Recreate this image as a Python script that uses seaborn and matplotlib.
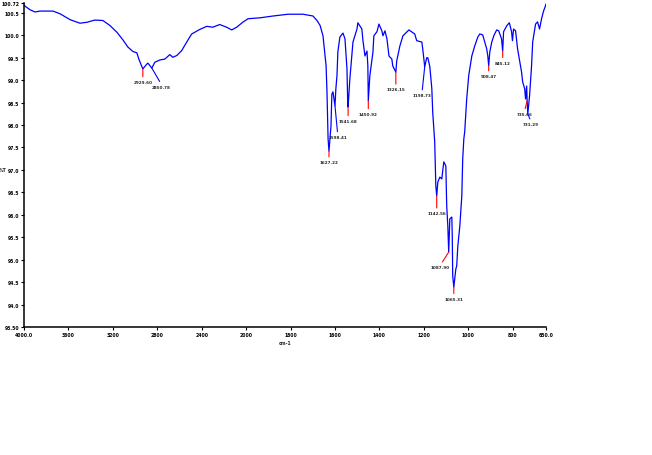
import numpy as np
import pandas as pd
import matplotlib
matplotlib.use("Agg")
import matplotlib.pyplot as plt
from matplotlib.ticker import NullLocator
import seaborn as sns

# IR spectrum
wavenumber = [4000, 3991, 3946, 3901, 3856, 3739, 3676, 3586, 3497, 3434, 3362, 3290,
              3227, 3164, 3110, 3065, 3020, 2984, 2966, 2930, 2894, 2885, 2849, 2822,
              2777, 2732, 2687, 2660, 2624, 2580, 2535, 2490, 2418, 2355, 2301, 2247,
              2238, 2175, 2130, 2085, 2031, 1991, 1937, 1879, 1811, 1744, 1699, 1681,
              1667, 1654, 1640, 1636, 1631, 1627, 1618, 1614, 1609, 1600, 1596, 1591,
              1587, 1578, 1564, 1555, 1546, 1543, 1541, 1533, 1519, 1501, 1497, 1479,
              1474, 1465, 1456, 1452, 1450, 1443, 1429, 1425, 1411, 1402, 1389, 1384,
              1375, 1366, 1357, 1344, 1340, 1326, 1322, 1308, 1294, 1267, 1241, 1232,
              1209, 1205, 1196, 1187, 1182, 1173, 1164, 1160, 1151, 1146, 1142, 1137,
              1128, 1119, 1115, 1110, 1101, 1097, 1092, 1088, 1083, 1074, 1072, 1070,
              1065, 1056, 1052, 1047, 1038, 1029, 1025, 1020, 1016, 1007, 998, 984,
              971, 957, 948, 935, 917, 912, 908, 903, 894, 885, 872, 863,
              850, 845, 841, 827, 815, 805, 801, 796, 787, 778, 760, 755,
              746, 742, 737, 735, 732, 724, 715, 710, 697, 688, 679, 670,
              661, 652, 650]
transmittance = [100.68, 100.65, 100.57, 100.52, 100.54, 100.54, 100.48, 100.35, 100.27, 100.29, 100.34, 100.33,
                 100.22, 100.07, 99.90, 99.74, 99.64, 99.61, 99.47, 99.25, 99.36, 99.38, 99.27, 99.40,
                 99.45, 99.47, 99.57, 99.51, 99.55, 99.66, 99.85, 100.03, 100.13, 100.20, 100.18, 100.23,
                 100.24, 100.18, 100.12, 100.18, 100.29, 100.37, 100.39, 100.43, 100.47, 100.47, 100.43, 100.33,
                 100.22, 99.99, 99.32, 98.74, 97.69, 97.42, 97.98, 98.69, 98.74, 98.43, 98.81, 99.10,
                 99.63, 99.96, 100.05, 99.92, 99.25, 98.58, 98.40, 99.03, 99.85, 100.14, 100.28, 100.14,
                 99.88, 99.54, 99.65, 99.32, 98.54, 99.10, 99.63, 99.99, 100.08, 100.25, 100.10, 99.99,
                 100.10, 99.92, 99.54, 99.47, 99.32, 99.18, 99.43, 99.76, 99.99, 100.12, 100.03, 99.88,
                 99.85, 99.70, 99.30, 99.50, 99.50, 99.30, 98.81, 98.29, 97.62, 96.64, 96.42, 96.73,
                 96.84, 96.80, 96.98, 97.18, 97.09, 96.20, 95.75, 95.17, 95.91, 95.95, 95.53, 94.64,
                 94.39, 94.79, 94.86, 95.30, 95.75, 96.42, 97.24, 97.69, 97.85, 98.58, 99.10, 99.54,
                 99.76, 99.96, 100.03, 100.01, 99.70, 99.54, 99.32, 99.63, 99.85, 99.99, 100.12, 100.10,
                 99.92, 99.65, 100.08, 100.21, 100.28, 100.08, 99.88, 100.14, 100.10, 99.70, 99.18, 98.96,
                 98.81, 98.58, 98.87, 98.54, 98.25, 98.65, 99.32, 99.85, 100.25, 100.30, 100.14, 100.37,
                 100.54, 100.66, 100.70]

# labelled peaks
peak_wn = [2930, 2849, 1627, 1600, 1541, 1450, 1326, 1196, 1142, 1088, 1065, 908, 845, 735, 732]
peak_t = [99.25, 99.27, 97.42, 98.43, 98.40, 98.54, 99.18, 99.30, 96.42, 95.17, 94.39, 99.32, 99.65, 98.54, 98.25]
peak_text = ['2929.60', '2850.78', '1627.22', '1598.41', '1541.68', '1450.92', '1326.15', '1198.73',
             '1142.56', '1087.90', '1065.31', '908.47', '845.12', '735.66', '731.29']

x_ticks = [4000, 3600, 3200, 2800, 2400, 2000, 1800, 1600, 1400, 1200, 1000, 800, 650]
x_tick_labels = ['4000.0', '3600', '3200', '2800', '2400', '2000', '1800', '1600',
                 '1400', '1200', '1000', '800', '650.0']
y_ticks = [93.5, 94.0, 94.5, 95.0, 95.5, 96.0, 96.5, 97.0, 97.5, 98.0, 98.5, 99.0,
           99.5, 100.0, 100.5, 100.72]
y_tick_labels = ['93.50', '94.0', '94.5', '95.0', '95.5', '96.0', '96.5', '97.0', '97.5',
                 '98.0', '98.5', '99.0', '99.5', '100.0', '100.5', '100.72']

df = pd.DataFrame({'cm-1': wavenumber, '%T': transmittance})

sns.set_style('ticks')
plt.rcParams['font.family'] = ['DejaVu Sans']

fig = plt.figure(figsize=(6.52, 4.56), dpi=100)
ax = fig.add_axes([24 / 652, 1 - 328 / 456, 522 / 652, 324 / 456])

sns.lineplot(data=df, x='cm-1', y='%T', ax=ax, color='#0000ff', linewidth=0.9,
             sort=False, estimator=None)


# 4000-2000 is drawn at half the scale of 2000-650
def fwd(w):
    w = np.asarray(w, dtype=float)
    return np.where(w > 2000, 2000 + (w - 2000) / 2, w)


def inv(u):
    u = np.asarray(u, dtype=float)
    return np.where(u > 2000, 2000 + (u - 2000) * 2, u)


ax.set_xscale('function', functions=(fwd, inv))
ax.set_xlim(4000, 650)
ax.set_ylim(93.5, 100.72)

ax.set_xticks(x_ticks)
ax.set_xticklabels(x_tick_labels)
ax.set_yticks(y_ticks)
ax.set_yticklabels(y_tick_labels)
ax.xaxis.set_minor_locator(NullLocator())
ax.yaxis.set_minor_locator(NullLocator())
ax.tick_params(labelsize=3.3, length=2, width=0.8, pad=1.5, colors='black')
for lab in ax.get_xticklabels() + ax.get_yticklabels():
    lab.set_fontweight('bold')

ax.set_xlabel('cm-1', fontsize=3.3, fontweight='bold', labelpad=2)
ax.set_ylabel('%T', fontsize=3.3, fontweight='bold', rotation=0, ha='right', va='center')
ax.yaxis.set_label_coords(-0.0335, (97.0 - 93.5) / (100.72 - 93.5))

sns.despine(ax=ax)
for s in ['left', 'bottom']:
    ax.spines[s].set_linewidth(1.1)
    ax.spines[s].set_color('black')

# label offsets in points (dx, dy) and connector colour
offsets = [(0, -8), (7, -12), (0, -6.5), (2, -21), (0, -8.5), (0, -8), (0, -11), (-2, -19),
           (0, -11), (-6, -9.5), (0, -7), (0, -6), (0, -7), (-2, -8), (2.5, -6)]
line_colors = ['red', 'blue', 'red', 'blue', 'red', 'red', 'red', 'blue',
               'red', 'red', 'red', 'red', 'red', 'red', 'blue']

for wn, t, txt, off, lc in zip(peak_wn, peak_t, peak_text, offsets, line_colors):
    ax.annotate(txt, xy=(wn, t), xytext=off, textcoords='offset points',
                ha='center', va='top', fontsize=3, fontweight='bold',
                arrowprops=dict(arrowstyle='-', color=lc, lw=0.8,
                                shrinkA=0, shrinkB=0, relpos=(0.5, 1)))

fig.savefig('out.png', dpi=100)
